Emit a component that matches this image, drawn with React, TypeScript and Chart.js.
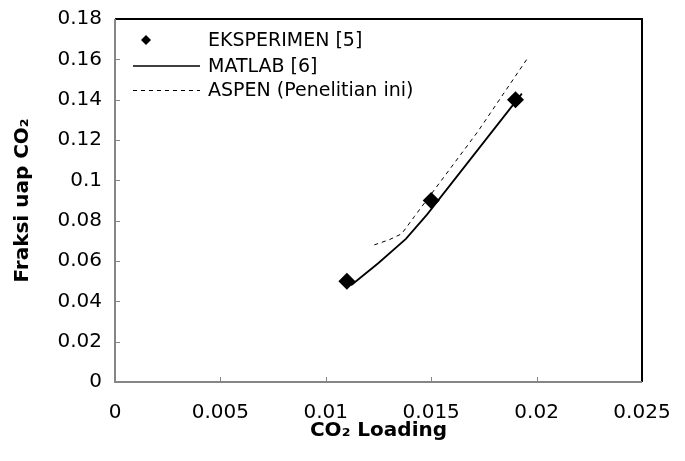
import React, { useEffect, useRef } from "react";
import { Chart, registerables } from "chart.js";

Chart.register(...registerables);

const expX = [0.011, 0.015, 0.019];
const expY = [0.05, 0.09, 0.14];

const matlabX = [0.0112, 0.0125, 0.0138, 0.0148, 0.0193];
const matlabY = [0.048, 0.059, 0.071, 0.083, 0.143];

const aspenX = [0.0123, 0.013, 0.0136, 0.0142, 0.0172, 0.0196];
const aspenY = [0.068, 0.0705, 0.0735, 0.082, 0.124, 0.161];

const xTickLabels = ["0", "0.005", "0.01", "0.015", "0.02", "0.025"];
const yTickLabels = ["0", "0.02", "0.04", "0.06", "0.08", "0.1", "0.12", "0.14", "0.16", "0.18"];

const seriesNames = ["EKSPERIMEN [5]", "MATLAB [6]", "ASPEN (Penelitian ini)"];

const FONT = "'DejaVu Sans', sans-serif";

const framePlugin = {
  id: "frame",
  afterDraw(chart: any) {
    const { ctx, chartArea } = chart;
    const { left, right, top, bottom } = chartArea;
    const xs = chart.scales.x;
    const ys = chart.scales.y;
    ctx.save();
    ctx.strokeStyle = "#868686";
    ctx.lineWidth = 1;
    xs.ticks.forEach((t: any) => {
      const px = Math.round(xs.getPixelForValue(t.value)) + 0.5;
      ctx.beginPath();
      ctx.moveTo(px, bottom);
      ctx.lineTo(px, bottom - 5);
      ctx.stroke();
    });
    ys.ticks.forEach((t: any) => {
      const py = Math.round(ys.getPixelForValue(t.value)) + 0.5;
      ctx.beginPath();
      ctx.moveTo(left, py);
      ctx.lineTo(left + 5, py);
      ctx.stroke();
    });
    ctx.lineWidth = 2;
    ctx.strokeStyle = "#000";
    ctx.beginPath();
    ctx.moveTo(left, top);
    ctx.lineTo(right, top);
    ctx.lineTo(right, bottom);
    ctx.stroke();
    ctx.strokeStyle = "#868686";
    ctx.beginPath();
    ctx.moveTo(left, top);
    ctx.lineTo(left, bottom);
    ctx.lineTo(right, bottom);
    ctx.stroke();

    // legend
    ctx.fillStyle = "#000";
    ctx.font = `19px ${FONT}`;
    ctx.textBaseline = "middle";
    ctx.textAlign = "left";
    const lx0 = 133;
    const lx1 = 200;
    const tx = 208;
    const rows = [40, 66, 90];
    const cx = 146;
    const cy = rows[0];
    ctx.beginPath();
    ctx.moveTo(cx, cy - 5);
    ctx.lineTo(cx + 5, cy);
    ctx.lineTo(cx, cy + 5);
    ctx.lineTo(cx - 5, cy);
    ctx.closePath();
    ctx.fill();
    ctx.strokeStyle = "#000";
    ctx.lineWidth = 1.5;
    ctx.beginPath();
    ctx.moveTo(lx0, rows[1]);
    ctx.lineTo(lx1, rows[1]);
    ctx.stroke();
    ctx.lineWidth = 1;
    ctx.setLineDash([4, 4]);
    ctx.beginPath();
    ctx.moveTo(lx0, rows[2] + 0.5);
    ctx.lineTo(lx1, rows[2] + 0.5);
    ctx.stroke();
    ctx.setLineDash([]);
    seriesNames.forEach((n, i) => ctx.fillText(n, tx, rows[i] + 1));
    ctx.restore();
  },
};

export default function App() {
  const ref = useRef<HTMLCanvasElement>(null);
  useEffect(() => {
    if (!ref.current) return;
    const chart = new Chart(ref.current, {
      type: "scatter",
      data: {
        datasets: [
          {
            label: seriesNames[0],
            data: expX.map((x, i) => ({ x, y: expY[i] })),
            pointStyle: "rectRot",
            pointRadius: 8.5,
            backgroundColor: "#000",
            borderColor: "#000",
            borderWidth: 0,
            showLine: false,
            order: 0,
          },
          {
            label: seriesNames[1],
            data: matlabX.map((x, i) => ({ x, y: matlabY[i] })),
            showLine: true,
            pointRadius: 0,
            borderColor: "#000",
            borderWidth: 1.8,
            tension: 0,
            order: 1,
          },
          {
            label: seriesNames[2],
            data: aspenX.map((x, i) => ({ x, y: aspenY[i] })),
            showLine: true,
            pointRadius: 0,
            borderColor: "#000",
            borderWidth: 1,
            borderDash: [4, 4],
            tension: 0,
            order: 2,
          },
        ],
      },
      options: {
        animation: false,
        responsive: false,
        layout: { padding: { left: 0, top: 19, right: 43, bottom: 0 } },
        plugins: { legend: { display: false }, tooltip: { enabled: false } },
        scales: {
          x: {
            type: "linear",
            min: 0,
            max: 0.025,
            grid: { display: false, drawTicks: false },
            border: { display: false },
            ticks: {
              stepSize: 0.005,
              padding: 19,
              color: "#000",
              font: { family: FONT, size: 20 },
              maxRotation: 0,
              callback: (_v: any, i: number) => xTickLabels[i],
            },
            title: {
              display: true,
              text: "CO₂ Loading",
              color: "#000",
              font: { family: FONT, size: 20, weight: "bold" },
              padding: { top: 0, bottom: 18 },
            },
            afterFit: (s: any) => {
              s.height = 79;
              s.paddingLeft = 0;
              s.paddingRight = 0;
            },
          },
          y: {
            type: "linear",
            min: 0,
            max: 0.18,
            grid: { display: false, drawTicks: false },
            border: { display: false },
            ticks: {
              stepSize: 0.02,
              padding: 13,
              color: "#000",
              font: { family: FONT, size: 20 },
              callback: (_v: any, i: number) => yTickLabels[i],
            },
            title: {
              display: true,
              text: "Fraksi uap CO₂",
              color: "#000",
              font: { family: FONT, size: 20, weight: "bold" },
              padding: { top: 11, bottom: 0 },
            },
            afterFit: (s: any) => {
              s.width = 115;
              s.paddingTop = 0;
              s.paddingBottom = 0;
            },
          },
        },
      },
      plugins: [framePlugin],
    });
    return () => chart.destroy();
  }, []);
  return (
    <div style={{ position: "fixed", left: 0, top: 0, width: 685, height: 461, background: "#fff" }}>
      <canvas ref={ref} width={685} height={461} style={{ display: "block" }} />
    </div>
  );
}
